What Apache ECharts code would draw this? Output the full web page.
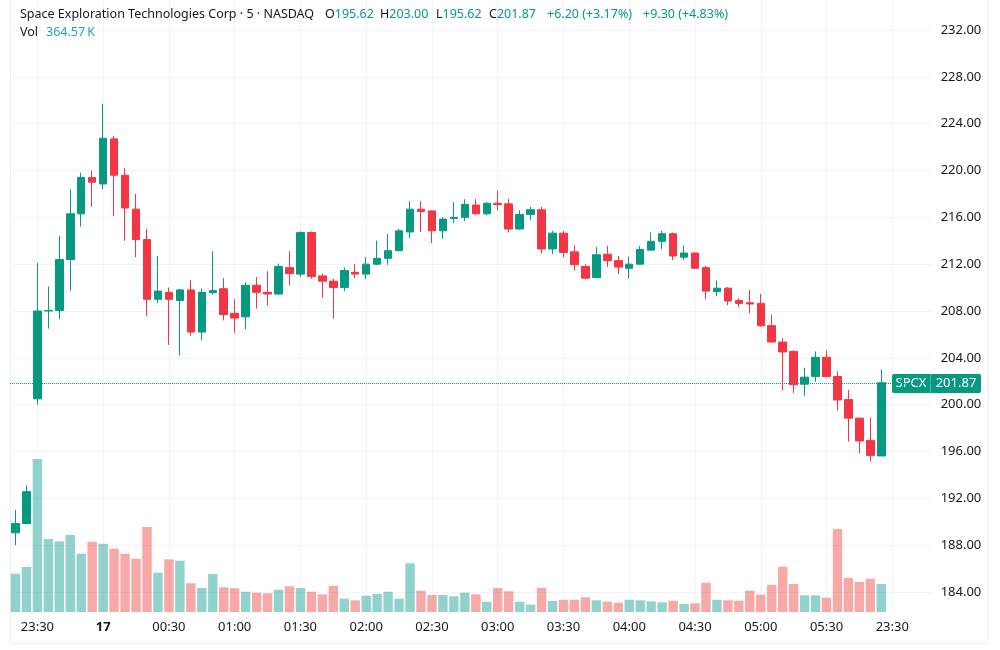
<!DOCTYPE html>
<html lang="en">
<head>
    <meta charset="UTF-8">
    <title>SPCX 5m</title>
    <script src="https://cdn.jsdelivr.net/npm/echarts@6/dist/echarts.min.js"></script>
    <style>
        html, body { margin: 0; padding: 0; background: #fff; }
        #chart { width: 1000px; height: 650px; }
    </style>
</head>
<body>
<div id="chart"></div>
<script>
    const ticker = 'SPCX';
    const titleText = 'Space Exploration Technologies Corp · 5 · NASDAQ';

    // 5-minute bars, 23:20 -> 05:55
    const opens = [189.05, 189.85, 200.5, 208.0, 208.05, 212.4, 216.3, 219.4, 218.85, 222.7,
        219.6, 216.7, 214.1, 209.0, 209.6, 208.9, 209.8, 206.2, 209.56, 209.9,
        207.8, 207.5, 210.2, 209.6, 209.45, 211.7, 211.15, 214.7, 211.0, 210.55,
        210.0, 211.3, 211.15, 212.0, 212.5, 213.15, 214.75, 216.7, 216.55, 214.85,
        215.9, 216.0, 217.05, 216.3, 217.2, 217.15, 215.0, 216.25, 216.65, 213.3,
        214.65, 213.05, 211.8, 210.85, 212.85, 212.3, 211.65, 212.0, 213.2, 213.95,
        214.6, 212.6, 212.95, 211.7, 209.65, 209.95, 208.9, 208.7, 208.65, 206.75,
        205.35, 204.55, 201.75, 202.4, 204.05, 202.4, 200.45, 198.85, 196.95, 195.62];
    const highs = [191.0, 193.1, 212.1, 210.1, 214.4, 218.4, 219.8, 220.0, 225.7, 222.95,
        220.2, 218.0, 215.0, 212.7, 210.0, 209.9, 210.65, 209.9, 213.1, 210.8,
        209.0, 210.45, 210.9, 211.4, 212.05, 213.1, 214.8, 214.8, 211.2, 210.75,
        211.7, 212.0, 212.6, 214.0, 214.6, 215.0, 217.4, 217.4, 216.6, 216.0,
        217.3, 217.55, 217.55, 217.3, 218.3, 217.55, 216.6, 216.9, 216.9, 214.85,
        214.85, 213.6, 212.0, 213.45, 213.55, 212.7, 212.65, 213.55, 214.7, 214.85,
        214.7, 213.6, 213.0, 211.85, 210.6, 210.05, 209.1, 209.8, 209.45, 207.7,
        205.7, 204.65, 203.15, 204.55, 204.65, 202.85, 201.25, 198.9, 198.9, 203.0];
    const lows = [188.0, 189.8, 200.0, 206.5, 207.3, 209.7, 215.2, 216.9, 218.4, 216.1,
        214.0, 212.6, 207.6, 208.7, 205.1, 204.2, 205.9, 205.5, 209.4, 207.2,
        206.15, 206.45, 208.2, 208.45, 209.4, 210.2, 210.9, 210.75, 209.15, 207.35,
        209.7, 210.8, 210.7, 211.9, 211.95, 213.1, 214.2, 214.75, 213.8, 214.15,
        215.5, 215.7, 216.2, 216.2, 216.6, 214.7, 214.95, 215.75, 212.9, 212.85,
        212.6, 211.45, 210.7, 210.85, 211.75, 211.15, 210.75, 212.0, 213.15, 213.3,
        212.35, 212.35, 211.6, 209.0, 209.25, 208.5, 208.35, 207.8, 206.65, 205.3,
        201.2, 201.0, 200.75, 201.95, 202.4, 199.5, 196.85, 195.85, 195.15, 195.62];
    const closes = [189.85, 192.57, 208.0, 208.05, 212.4, 216.3, 219.4, 219.0, 222.75, 219.6,
        216.8, 214.1, 209.0, 209.7, 209.0, 209.8, 206.2, 209.6, 209.74, 207.7,
        207.4, 210.2, 209.6, 209.45, 211.8, 211.2, 214.7, 210.95, 210.55, 210.0,
        211.45, 211.15, 212.0, 212.5, 213.15, 214.85, 216.7, 216.5, 214.85, 215.85,
        216.0, 217.1, 216.3, 217.2, 217.1, 215.0, 216.25, 216.65, 213.3, 214.65,
        213.0, 211.95, 210.8, 212.8, 212.3, 211.75, 212.0, 213.25, 213.95, 214.6,
        212.7, 212.95, 211.65, 209.7, 209.95, 208.85, 208.65, 208.6, 206.75, 205.35,
        204.5, 201.7, 202.35, 204.05, 202.4, 200.4, 198.85, 196.9, 195.67, 201.87];
    // volume, thousands
    const volumes = [499, 586, 1992, 950, 920, 1003, 759, 915, 889, 824,
        759, 694, 1107, 512, 686, 668, 374, 312, 495, 322,
        309, 264, 251, 243, 290, 335, 312, 264, 230, 342,
        173, 152, 212, 234, 264, 173, 634, 277, 221, 221,
        204, 251, 230, 134, 312, 270, 134, 95, 316, 143,
        160, 160, 191, 152, 134, 121, 160, 152, 139, 126,
        147, 104, 113, 381, 160, 152, 147, 277, 225, 355,
        590, 365, 217, 217, 186, 1081, 443, 391, 434, 364.57];

    // time axis: one session of bars plus the start of the next session
    const times = [];
    for (let i = 0; i < 80; i++) {
        const m = (23 * 60 + 20 + i * 5) % 1440;
        const day = (23 * 60 + 20 + i * 5) >= 1440 ? '17' : '16';
        times.push(day + ' ' + String(Math.floor(m / 60)).padStart(2, '0') + ':' + String(m % 60).padStart(2, '0'));
    }
    ['17 23:30', '17 23:35', '17 23:40', '17 23:45'].forEach(t => times.push(t));

    const upColor = '#089981';
    const downColor = '#F23645';
    const upVol = 'rgba(38,166,154,0.5)';
    const downVol = 'rgba(239,83,80,0.5)';
    const textColor = '#131722';
    const gridColor = '#f0f3fa';
    const font = 'Noto Sans';
    const legendSize = 12.5;

    const candleData = opens.map((o, i) => [o, closes[i], lows[i], highs[i]]);
    const volData = volumes.map((v, i) => ({
        value: v,
        itemStyle: { color: closes[i] >= opens[i] ? upVol : downVol }
    }));

    const tickShown = (i) => (i - 2) % 6 === 0 && i >= 2;

    const chart = echarts.init(document.getElementById('chart'));
    const plotW = 84 * 10.96;

    chart.setOption({
        animation: false,
        textStyle: { fontFamily: font },
        grid: [
            { left: 10, width: plotW, top: 30, height: 562 },
            { left: 10, width: plotW, top: 0, height: 612 }
        ],
        xAxis: [
            {
                type: 'category', gridIndex: 0, data: times, boundaryGap: true,
                axisLine: { show: false }, axisTick: { show: false },
                axisLabel: { show: false }, splitLine: { show: false }
            },
            {
                type: 'category', gridIndex: 1, data: times, boundaryGap: true,
                axisLine: { show: false },
                axisTick: { show: false, alignWithLabel: true },
                axisLabel: {
                    interval: (i) => tickShown(i),
                    margin: 9,
                    color: textColor,
                    fontSize: 13,
                    fontFamily: font,
                    formatter: (v) => {
                        const hm = v.split(' ')[1];
                        return hm === '00:00' ? '{b|' + v.split(' ')[0] + '}' : hm;
                    },
                    rich: { b: { fontWeight: 'bold', fontSize: 13, color: textColor, fontFamily: font } }
                },
                splitLine: {
                    show: true,
                    alignWithLabel: true,
                    interval: (i) => tickShown(i),
                    lineStyle: { color: gridColor, width: 1 }
                }
            }
        ],
        yAxis: [
            {
                type: 'value', gridIndex: 0, position: 'right',
                min: 184, max: 232, interval: 4,
                axisLine: { show: false }, axisTick: { show: false },
                axisLabel: {
                    margin: 10, color: textColor, fontSize: 13, fontFamily: font,
                    formatter: (v) => v.toFixed(2)
                },
                splitLine: { lineStyle: { color: gridColor, width: 1 } }
            },
            {
                type: 'value', gridIndex: 1, min: 0, max: 7970, show: false,
                splitLine: { show: false }
            }
        ],
        series: [
            {
                type: 'bar', name: 'Vol', xAxisIndex: 1, yAxisIndex: 1,
                data: volData, barWidth: '86%', z: 1
            },
            {
                type: 'candlestick', name: ticker, xAxisIndex: 0, yAxisIndex: 0,
                data: candleData, barWidth: 8, z: 3,
                itemStyle: {
                    color: upColor, color0: downColor,
                    borderColor: upColor, borderColor0: downColor,
                    borderWidth: 1
                },
                markLine: {
                    silent: true, symbol: 'none',
                    label: { show: false },
                    lineStyle: { color: upColor, type: 'dotted', width: 1, opacity: 1 },
                    data: [{ yAxis: closes[closes.length - 1] }]
                }
            }
        ]
    });

    // legend row + last price tag
    const n = closes.length - 1;
    const chg = closes[n] - closes[n - 1];
    const chgSession = closes[n] - closes[1];
    const sign = (x) => (x >= 0 ? '+' : '') + x.toFixed(2);
    const pct = (x, base) => '(' + (x >= 0 ? '+' : '') + (x / base * 100).toFixed(2) + '%)';
    const ohlc = (l, v, x) => ({
        type: 'text', left: x, top: 8,
        style: {
            text: '{l|' + l + '}{v|' + v.toFixed(2) + '}',
            rich: {
                l: { fill: textColor, fontSize: legendSize, fontFamily: font },
                v: { fill: upColor, fontSize: legendSize, fontFamily: font }
            }
        }
    });
    const py = chart.convertToPixel({ yAxisIndex: 0 }, closes[n]);

    chart.setOption({
        graphic: [
            {
                type: 'rect', shape: { x: 10.5, y: -1, width: 978, height: 644.5 },
                style: { fill: 'none', stroke: '#eceef2', lineWidth: 1 }, silent: true
            },
            { type: 'text', left: 20, top: 8, style: { text: titleText, fill: textColor, fontSize: legendSize, fontFamily: font } },
            ohlc('O', opens[n], 325),
            ohlc('H', highs[n], 380),
            ohlc('L', lows[n], 436),
            ohlc('C', closes[n], 489),
            { type: 'text', left: 547, top: 8, style: { text: sign(chg) + ' ' + pct(chg, closes[n - 1]), fill: upColor, fontSize: legendSize, fontFamily: font } },
            { type: 'text', left: 643, top: 8, style: { text: sign(chgSession) + ' ' + pct(chgSession, closes[1]), fill: upColor, fontSize: legendSize, fontFamily: font } },
            { type: 'text', left: 20, top: 26, style: { text: 'Vol', fill: textColor, fontSize: legendSize, fontFamily: font } },
            { type: 'text', left: 46, top: 26, style: { text: volumes[n].toFixed(2) + '\u202fK', fill: '#22ab94', fontSize: legendSize, fontFamily: font } },
            {
                type: 'group', x: 892, y: Math.round(py) - 9,
                children: [
                    { type: 'rect', shape: { x: 0, y: 0, width: 89, height: 19, r: 2 }, style: { fill: upColor } },
                    { type: 'rect', shape: { x: 38, y: 0, width: 1, height: 19 }, style: { fill: 'rgba(255,255,255,0.3)' } },
                    { type: 'text', x: 19, y: 9.5, style: { text: ticker, fill: '#fff', fontSize: 13, fontFamily: font, align: 'center', verticalAlign: 'middle' } },
                    { type: 'text', x: 64, y: 9.5, style: { text: closes[n].toFixed(2), fill: '#fff', fontSize: 13, fontFamily: font, align: 'center', verticalAlign: 'middle' } }
                ]
            }
        ]
    });

    window.addEventListener('resize', function () {
        chart.resize();
    });
</script>
</body>
</html>
